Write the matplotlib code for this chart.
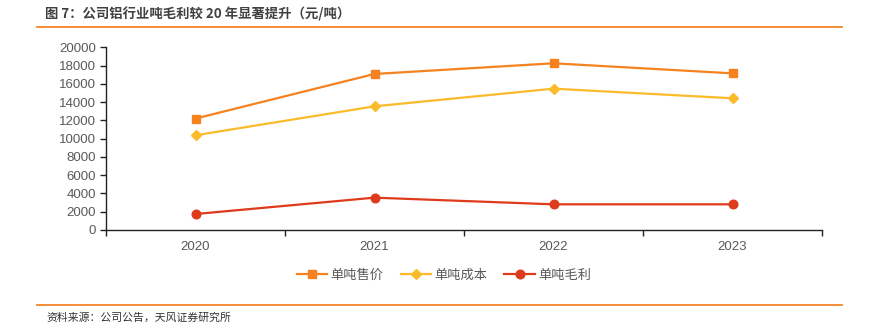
import matplotlib
matplotlib.use("Agg")
import matplotlib.pyplot as plt
from matplotlib.lines import Line2D

plt.rcParams['font.family'] = ['Liberation Sans', 'Noto Sans CJK SC', 'DejaVu Sans']

years = ['2020', '2021', '2022', '2023']
price = [12200, 17080, 18250, 17150]
cost = [10370, 13540, 15470, 14420]
profit = [1750, 3540, 2810, 2810]
series_names = ['单吨售价', '单吨成本', '单吨毛利']
yticks = list(range(0, 20001, 2000))

title = '图 7：公司铝行业吨毛利较 20 年显著提升（元/吨）'
source = '资料来源：公司公告，天风证券研究所'

c_price = '#F5821F'
c_cost = '#FBBB2B'
c_profit = '#DE3B1C'
c_rule = '#F5862A'
c_text = '#595959'

W, H = 874, 324
fig = plt.figure(figsize=(W / 100, H / 100), dpi=100)

ax = fig.add_axes([106 / W, 1 - 230 / H, (822 - 106) / W, (230 - 47.3) / H])
x = list(range(len(years)))
ax.plot(x, price, color=c_price, lw=1.6, marker='s', ms=6.3, label=series_names[0])
ax.plot(x, cost, color=c_cost, lw=1.6, marker='D', ms=5.5, label=series_names[1])
ax.plot(x, profit, color=c_profit, lw=1.6, marker='o', ms=6.2, label=series_names[2])

ax.set_xlim(-0.5, len(years) - 0.5)
ax.set_ylim(0, 20000)
ax.set_yticks(yticks)
ax.set_yticklabels([str(v) for v in yticks])
ax.set_xticks(x)
ax.set_xticklabels(years)
ax.set_xticks([i - 0.5 for i in range(len(years) + 1)], minor=True)
ax.tick_params(axis='x', which='major', length=0, pad=8, labelsize=9.5, labelcolor=c_text)
ax.tick_params(axis='x', which='minor', length=4, width=1, color='#222222', direction='out')
ax.tick_params(axis='y', which='major', length=4, width=1, color='#222222', pad=3,
               labelsize=9.5, labelcolor=c_text)
for s in ['top', 'right']:
    ax.spines[s].set_visible(False)
for s in ['left', 'bottom']:
    ax.spines[s].set_color('#222222')
    ax.spines[s].set_linewidth(1)

leg = fig.legend(loc='center', bbox_to_anchor=(444 / W, 1 - 275.6 / H), ncol=3,
                 frameon=False, handlelength=2.3, handletextpad=0.25, columnspacing=1.3,
                 prop={'family': ['Noto Sans CJK SC'], 'size': 9.5})
for t in leg.get_texts():
    t.set_color(c_text)

# header and footer
fig.text(45 / W, 1 - 14 / H, title, ha='left', va='center', fontsize=9.6,
         fontweight='bold', color='#404040', family=['Noto Sans CJK SC', 'DejaVu Sans'])
fig.add_artist(Line2D([37 / W, 842 / W], [1 - 27 / H, 1 - 27 / H], color=c_rule, lw=1.3))
fig.add_artist(Line2D([37 / W, 842 / W], [1 - 304.5 / H, 1 - 304.5 / H], color=c_rule, lw=1.3))
fig.text(46 / W, 1 - 318 / H, source, ha='left', va='center', fontsize=7.8,
         color='#333333', family=['Noto Sans CJK SC', 'DejaVu Sans'])

fig.savefig('out.png', dpi=100)
